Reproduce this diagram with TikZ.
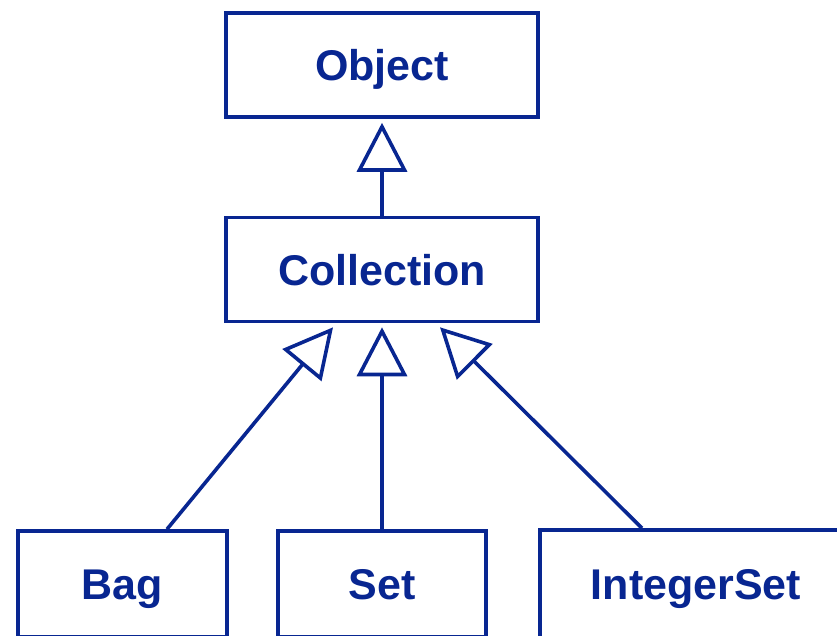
\documentclass[tikz,border=0pt]{standalone}
\usepackage{fontspec}
\setmainfont{Liberation Sans}
\usetikzlibrary{arrows.meta}
\definecolor{umlblue}{RGB}{8,38,145}
\tikzset{
  cls/.style={draw=umlblue, line width=3.6pt, text=umlblue, font=\fontsize{43}{48}\selectfont\bfseries,
    minimum height=104pt, inner sep=0pt, text height=31pt, text depth=0pt, anchor=center},
  inh/.style={draw=umlblue, line width=3.6pt, -{Triangle[open, length=49pt, width=50pt, line join=miter]}, fill=white}
}
\begin{document}
\begin{tikzpicture}[x=1pt,y=-1pt]
\useasboundingbox (0,0) rectangle (837,635);
\clip (0,0) rectangle (837,635);
\node[cls, minimum width=312pt] (obj) at (382,65) {Object};
\node[cls, minimum width=312pt] (coll) at (382,269.5) {Collection};
\node[cls, minimum width=209pt, minimum height=106pt] (bag) at (122.5,584) {Bag};
\node[cls, minimum width=208pt, minimum height=106pt] (set) at (382,584) {Set};
\node[cls, minimum width=312pt, minimum height=108pt] (iset) at (696,584) {IntegerSet};
\draw[inh] (coll.north) -- ([yshift=-4pt]obj.south);
\draw[inh] ([xshift=44.5pt]bag.north) -- ([xshift=-49pt,yshift=-4pt]coll.south);
\draw[inh] (set.north) -- ([yshift=-4pt]coll.south);
\draw[inh] ([xshift=-54pt]iset.north) -- ([xshift=58pt,yshift=-4pt]coll.south);
\end{tikzpicture}
\end{document}
